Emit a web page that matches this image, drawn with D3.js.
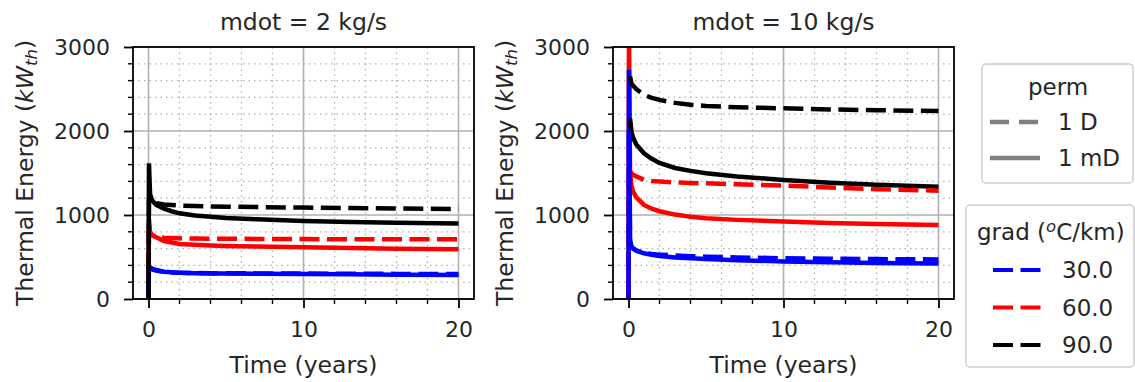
<!DOCTYPE html>
<html>
<head>
<meta charset="utf-8">
<script src="https://cdn.jsdelivr.net/npm/d3@7"></script>
<style>
  body { margin: 0; background: #fff; }
  text { font-family: "DejaVu Sans", sans-serif; fill: #262626; }
</style>
</head>
<body>
<svg id="chart" width="1135" height="382"></svg>
<script>
// time points (years) shared by every series
const years = [0, 0.03, 0.1, 0.2, 0.3, 0.5, 1, 1.5, 2, 3, 4, 5, 7, 10, 13, 16, 20];

// mdot = 2 kg/s
const m2_30_mD = [0, 400, 375, 365, 355, 345, 325, 318, 312, 308, 305, 303, 300, 298, 294, 290, 286];
const m2_60_mD = [0, 950, 800, 770, 755, 735, 690, 672, 655, 645, 638, 632, 624, 615, 606, 598, 591];
const m2_90_mD = [0, 1615, 1250, 1190, 1160, 1120, 1075, 1045, 1020, 995, 978, 965, 948, 930, 918, 908, 900];
const m2_30_D = [0, 380, 365, 355, 348, 338, 322, 316, 313, 310, 308, 306, 305, 303, 301, 299, 297];
const m2_60_D = [0, 800, 770, 760, 750, 740, 730, 725, 722, 720, 718, 717, 715, 713, 712, 711, 710];
const m2_90_D = [0, 1200, 1170, 1160, 1150, 1140, 1125, 1118, 1112, 1106, 1102, 1099, 1094, 1088, 1082, 1077, 1071];

// mdot = 10 kg/s
const m10_30_mD = [0, 2730, 700, 625, 600, 575, 544, 525, 512, 495, 485, 475, 462, 447, 438, 430, 424];
const m10_60_mD = [0, 3200, 1500, 1340, 1280, 1210, 1120, 1075, 1045, 1005, 980, 962, 942, 922, 905, 892, 881];
const m10_90_mD = [null, null, 2150, 1980, 1920, 1840, 1735, 1670, 1620, 1560, 1525, 1498, 1458, 1418, 1385, 1360, 1337];
const m10_30_D = [0, 2000, 650, 615, 600, 580, 548, 535, 528, 518, 510, 504, 495, 485, 479, 475, 471];
const m10_60_D = [0, 1600, 1520, 1495, 1480, 1460, 1420, 1405, 1398, 1388, 1382, 1377, 1365, 1350, 1328, 1308, 1290];
const m10_90_D = [null, null, 2650, 2560, 2540, 2500, 2430, 2395, 2370, 2335, 2312, 2298, 2283, 2270, 2257, 2247, 2238];

const grads = ['30.0', '60.0', '90.0'];
const gradColors = ['#0000ff', '#ff0000', '#000000'];
const perms = ['1 D', '1 mD'];
const yTicks = [0, 1000, 2000, 3000];
const xTicks = [0, 10, 20];

const panels = [
    { title: 'mdot = 2 kg/s', left: 133, solid: [m2_30_mD, m2_60_mD, m2_90_mD], dashed: [m2_30_D, m2_60_D, m2_90_D] },
    { title: 'mdot = 10 kg/s', left: 613, solid: [m10_30_mD, m10_60_mD, m10_90_mD], dashed: [m10_30_D, m10_60_D, m10_90_D] }
];

const svg = d3.select('#chart');
const plotTop = 47, plotBottom = 299, plotW = 341;
const DASH = '20,7.5';
const LW = 4.5;
// drawing order of the gradients (black ends on top)
const drawOrder = [1, 0, 2];

panels.forEach((p, pi) => {
    const h = plotBottom - plotTop;
    const x = d3.scaleLinear().domain([-1, 21]).range([0, plotW]);
    const y = d3.scaleLinear().domain([0, 3000]).range([h, 0]);

    const g = svg.append('g').attr('transform', `translate(${p.left}, ${plotTop})`);

    g.append('clipPath').attr('id', `clip${pi}`)
        .append('rect').attr('width', plotW).attr('height', h);

    // minor grid (dotted)
    const xMinor = d3.range(0, 21, 2).filter(v => v % 10 !== 0);
    const yMinor = d3.range(200, 3000, 200).filter(v => v % 1000 !== 0);
    g.append('g').selectAll('line').data(xMinor).join('line')
        .attr('x1', d => x(d)).attr('x2', d => x(d)).attr('y1', 0).attr('y2', h)
        .attr('stroke', '#b0b0b0').attr('stroke-width', 1.3).attr('stroke-dasharray', '1.5,4');
    g.append('g').selectAll('line').data(yMinor).join('line')
        .attr('y1', d => y(d)).attr('y2', d => y(d)).attr('x1', 0).attr('x2', plotW)
        .attr('stroke', '#b0b0b0').attr('stroke-width', 1.3).attr('stroke-dasharray', '1.5,4');
    // major grid
    g.append('g').selectAll('line').data(xTicks).join('line')
        .attr('x1', d => x(d)).attr('x2', d => x(d)).attr('y1', 0).attr('y2', h)
        .attr('stroke', '#b0b0b0').attr('stroke-width', 1.6);
    g.append('g').selectAll('line').data(yTicks).join('line')
        .attr('y1', d => y(d)).attr('y2', d => y(d)).attr('x1', 0).attr('x2', plotW)
        .attr('stroke', '#b0b0b0').attr('stroke-width', 1.6);

    // data lines
    const line = d3.line()
        .defined(d => d[1] !== null)
        .x(d => x(d[0]))
        .y(d => y(d[1]));
    const lines = g.append('g').attr('clip-path', `url(#clip${pi})`);
    const drawSeries = (vals, color, dashed) => {
        lines.append('path')
            .datum(years.map((t, i) => [t, vals[i]]))
            .attr('d', line)
            .attr('fill', 'none')
            .attr('stroke', color)
            .attr('stroke-width', LW)
            .attr('stroke-dasharray', dashed ? DASH : null);
    };
    drawOrder.forEach(i => drawSeries(p.solid[i], gradColors[i], false));
    drawOrder.forEach(i => drawSeries(p.dashed[i], gradColors[i], true));

    // axes
    const xAxis = d3.axisBottom(x).tickValues(xTicks).tickSize(9).tickPadding(13);
    const yAxis = d3.axisLeft(y).tickValues(yTicks).tickFormat(d3.format('d')).tickSize(9).tickPadding(14);
    const gx = g.append('g').attr('transform', `translate(0, ${h})`).call(xAxis);
    const gy = g.append('g').call(yAxis);
    [gx, gy].forEach(a => {
        a.select('.domain').remove();
        a.selectAll('line').attr('stroke', '#000').attr('stroke-width', 1.8);
        a.selectAll('text').attr('font-size', 22).attr('fill', '#262626')
            .style('font-family', '"DejaVu Sans", sans-serif');
    });
    gx.selectAll('text').attr('dy', 0).attr('y', 38);
    // minor ticks
    g.append('g').selectAll('line').data(xMinor).join('line')
        .attr('x1', d => x(d)).attr('x2', d => x(d)).attr('y1', h).attr('y2', h + 5)
        .attr('stroke', '#000').attr('stroke-width', 1.4);
    g.append('g').selectAll('line').data(yMinor).join('line')
        .attr('y1', d => y(d)).attr('y2', d => y(d)).attr('x1', 0).attr('x2', -5)
        .attr('stroke', '#000').attr('stroke-width', 1.4);

    // frame
    g.append('rect').attr('width', plotW).attr('height', h)
        .attr('fill', 'none').attr('stroke', '#000').attr('stroke-width', 1.8);

    // title and labels
    g.append('text').attr('x', plotW / 2).attr('y', -17)
        .attr('text-anchor', 'middle').attr('font-size', 23.5).text(p.title);
    g.append('text').attr('x', plotW / 2).attr('y', h + 74)
        .attr('text-anchor', 'middle').attr('font-size', 23.5).text('Time (years)');
    const yl = g.append('text')
        .attr('transform', `translate(-100, ${h / 2}) rotate(-90)`)
        .attr('text-anchor', 'middle').attr('font-size', 23.5);
    yl.append('tspan').text('Thermal Energy (');
    yl.append('tspan').attr('font-style', 'italic').text('kW');
    yl.append('tspan').attr('font-style', 'italic').attr('font-size', 16.5).attr('dy', 4).text('th');
    yl.append('tspan').attr('dy', -4).text(')');
});

// legend: perm
const lp = svg.append('g').attr('transform', 'translate(982, 64)');
lp.append('rect').attr('width', 151).attr('height', 119).attr('rx', 4)
    .attr('fill', '#fff').attr('fill-opacity', 0.8).attr('stroke', '#cccccc').attr('stroke-width', 1.5);
lp.append('text').attr('x', 76).attr('y', 31).attr('text-anchor', 'middle').attr('font-size', 23).text('perm');
perms.forEach((name, i) => {
    const yy = 58 + i * 36;
    lp.append('line').attr('x1', 8).attr('x2', 58).attr('y1', yy).attr('y2', yy)
        .attr('stroke', '#808080').attr('stroke-width', 4.5)
        .attr('stroke-dasharray', i === 0 ? '19,10' : null);
    lp.append('text').attr('x', 76).attr('y', yy + 8).attr('font-size', 23).text(name);
});

// legend: grad
const lg = svg.append('g').attr('transform', 'translate(966, 205)');
lg.append('rect').attr('width', 168).attr('height', 162).attr('rx', 4)
    .attr('fill', '#fff').attr('fill-opacity', 0.8).attr('stroke', '#cccccc').attr('stroke-width', 1.5);
const lt = lg.append('text').attr('x', 11).attr('y', 35).attr('font-size', 23);
lt.append('tspan').text('grad (');
lt.append('tspan').attr('font-style', 'italic').attr('font-size', 16.5).attr('dy', -8).text('o');
lt.append('tspan').attr('dy', 8).text('C/km)');
grads.forEach((name, i) => {
    const yy = 65 + i * 37.5;
    lg.append('line').attr('x1', 27).attr('x2', 75).attr('y1', yy).attr('y2', yy)
        .attr('stroke', gradColors[i]).attr('stroke-width', 4)
        .attr('stroke-dasharray', DASH);
    lg.append('text').attr('x', 96).attr('y', yy + 8).attr('font-size', 23).text(name);
});
</script>
</body>
</html>
